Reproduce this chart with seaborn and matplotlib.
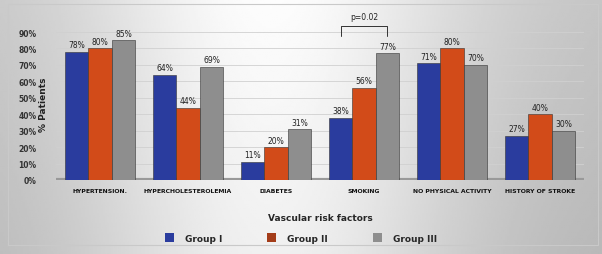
import numpy as np
import pandas as pd
import matplotlib
matplotlib.use("Agg")
import matplotlib.pyplot as plt
import seaborn as sns
from matplotlib.patches import Patch

categories = ["HYPERTENSION.", "HYPERCHOLESTEROLEMIA", "DIABETES", "SMOKING",
              "NO PHYSICAL ACTIVITY", "HISTORY OF STROKE"]
groups = ["Group I", "Group II", "Group III"]
group1 = [78, 64, 11, 38, 71, 27]
group2 = [80, 44, 20, 56, 80, 40]
group3 = [85, 69, 31, 77, 70, 30]
yticks = [0, 10, 20, 30, 40, 50, 60, 70, 80, 90]
colors = ["#2a3c9e", "#d24b19", "#8e8e8e"]
legend_colors = ["#2a3c9e", "#a33c19", "#8e8e8e"]

rows = []
for g, vals in zip(groups, [group1, group2, group3]):
    for c, v in zip(categories, vals):
        rows.append({"cat": c, "group": g, "val": v})
df = pd.DataFrame(rows)

sns.set_theme(style="white")
plt.rcParams['font.family'] = ['DejaVu Sans']

fig = plt.figure(figsize=(6.02, 2.55), dpi=100)
# gradient background
bg = fig.add_axes([0, 0, 1, 1], zorder=-10)
xs = np.linspace(0, 1, 300)
grad = 0.76 + 0.23 * np.exp(-((xs - 0.45) / 0.33) ** 2)
ys = np.linspace(0, 1, 120)[:, None]
img = np.clip(grad[None, :] - 0.05 * ys, 0, 1)
bg.imshow(img, cmap="gray", vmin=0, vmax=1, aspect="auto", extent=[0, 1, 0, 1])
bg.add_patch(plt.Rectangle((0.013, 0.035), 0.98, 0.945, fill=False,
                           edgecolor="#c9c9c9", lw=0.8, transform=bg.transAxes))
bg.axis("off")

ax = fig.add_axes([56 / 602, (255 - 181) / 255, 528 / 602, (181 - 13.3) / 255])
ax.patch.set_alpha(0)
sns.barplot(data=df, x="cat", y="val", hue="group", palette=colors, ax=ax,
            width=0.8, edgecolor="#333333", linewidth=0.4, saturation=1, legend=False)

for cont in ax.containers:
    for bar in cont:
        h = bar.get_height()
        ax.text(bar.get_x() + bar.get_width() / 2, h + 1.5, f"{int(round(h))}%",
                ha="center", va="bottom", fontsize=5.5, color="#222222")

ax.set_ylim(0, 102)
ax.set_xlim(-0.5, 5.5)
ax.set_yticks(yticks)
ax.set_yticklabels([f"{t}%" for t in yticks], fontsize=5.5, fontweight="bold", color="#333333")
ax.tick_params(axis="y", length=0, pad=14)
ax.tick_params(axis="x", length=0, pad=6)
ax.set_xticks(range(len(categories)))
ax.set_xticklabels(categories, fontsize=4.4, fontweight="bold", color="#111111")
for t in yticks[1:]:
    ax.axhline(t, color="#d0d0d0", lw=0.6, zorder=0)
ax.axhline(0, color="#999999", lw=3, zorder=0)
for s in ax.spines.values():
    s.set_visible(False)
ax.set_xlabel("Vascular risk factors", fontsize=6.5, fontweight="bold", labelpad=14)
ax.set_ylabel("")
fig.text(43 / 602, (255 - 105) / 255, "% Patients", rotation=90, ha="center", va="center",
         fontsize=6.5, fontweight="bold", color="#222222")

# significance bracket on SMOKING (Group I vs Group III)
x1 = 3 - 0.8 / 3
x2 = 3 + 0.8 / 3
ax.plot([x1, x1, x2, x2], [87.5, 93.7, 93.7, 87.5], color="#333333", lw=0.7)
ax.text(3, 96.5, "p=0.02", ha="center", va="bottom", fontsize=5.5, color="#222222")

handles = [Patch(facecolor=c, edgecolor="none") for c in legend_colors]
fig.legend(handles, groups, loc="center", bbox_to_anchor=(0.5, (255 - 239) / 255),
           ncol=3, frameon=False, prop={"weight": "bold", "size": 6.5},
           handlelength=1.0, handleheight=1.0, columnspacing=5, handletextpad=1.2)

fig.savefig("out.png", dpi=100)
